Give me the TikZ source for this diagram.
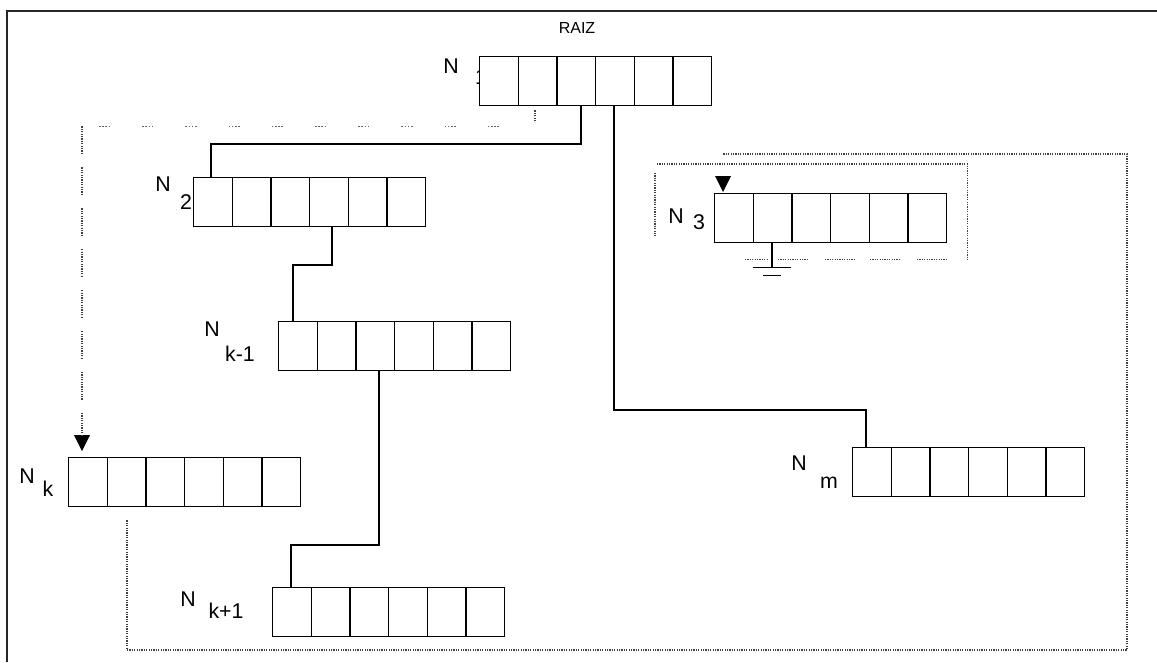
\documentclass[tikz,border=0pt]{standalone}
\usepackage{fontspec}
\setmainfont{Liberation Sans}
\usetikzlibrary{calc,arrows.meta}
\begin{document}
\begin{tikzpicture}[x=0.75pt,y=-0.75pt,
  rec/.style={draw, line width=1.1pt, fill=white, inner sep=0pt, anchor=north west,
    minimum width=174pt, minimum height=36.75pt,
    path picture={\foreach \i in {1,...,5}{\draw[line width=1.1pt]
      ($(path picture bounding box.south west)!\i/6!(path picture bounding box.south east)$) --
      ($(path picture bounding box.north west)!\i/6!(path picture bounding box.north east)$);}}},
  lbl/.style={inner sep=0pt, font=\fontsize{16}{18}\selectfont},
  link/.style={line width=1.1pt},
  dots/.style={line width=0.9pt, black!75, dash pattern=on 0.9pt off 0.9pt},
  sparse/.style={line width=0.9pt, black!60, dash pattern=on 1.2pt off 1.2pt on 1.2pt off 1.2pt on 1.2pt off 1.2pt on 1.2pt off 24pt},
  pointer/.style={fill=black}
]
\useasboundingbox (0,0) rectangle (1157,662);
% frame
\draw[line width=1.5pt, black!85] (7,662) -- (7,11) -- (1157,11);

% labels
\node[lbl] (l1) at (451,66) {N};
\node[lbl] (l1s) at (481,77) {1};
\node[inner sep=0pt, font=\fontsize{12}{14}\selectfont] (raizlbl) at (577,28) {RAIZ};
\node[lbl] (l2) at (163,184) {N};
\node[lbl] (l2s) at (186,202) {2};
\node[lbl] (lkm1) at (212,329) {N};
\node[lbl] (lkm1s) at (240,354) {k-1};
\node[lbl] (lk) at (27,476) {N};
\node[lbl] (lks) at (48,489) {k};
\node[lbl] (lkp1) at (188,599) {N};
\node[lbl] (lkp1s) at (226,611) {k+1};
\node[lbl] (l3) at (676,216) {N};
\node[lbl] (l3s) at (699,222) {3};
\node[lbl] (lm) at (799,463) {N};
\node[lbl] (lms) at (829,483) {m};

% records
\node[rec] (raiz) at (479,56) {};
\node[rec] (n2) at (193,177) {};
\node[rec] (nkm1) at (278,321) {};
\node[rec] (nk) at (68,457) {};
\node[rec] (nkp1) at (272,587) {};
\node[rec] (n3) at (714,193) {};
\node[rec] (nm) at (852,447) {};

% tree links
\draw[link] ($(raiz.south west)+(102,0)$) |- ($(n2.north west)+(18,-33)$) -- ($(n2.north west)+(18,0)$);
\draw[link] ($(raiz.south west)+(135,0)$) |- ($(nm.north west)+(14,-37)$) -- ($(nm.north west)+(14,0)$);
\draw[link] ($(n2.south west)+(139,0)$) |- ($(nkm1.north west)+(15,-56)$) -- ($(nkm1.north west)+(15,0)$);
\draw[link] ($(nkm1.south west)+(101,0)$) |- ($(nkp1.north west)+(19,-42)$) -- ($(nkp1.north west)+(19,0)$);

% pointer to N_k
\coordinate (ptk) at ($(nk.north west)+(14,-6)$);
\fill[pointer] (ptk) -- ++(-8,-16) -- ++(16,0) -- cycle;
\coordinate (a0) at ($(raiz.south west)+(56,4)$);
\coordinate (a1) at ($(raiz.south west)+(56,20)$);
\draw[dots] (a0) -- ($(a0)+(0,12)$);
\draw[sparse] ($(a1)+(-36,0)$) -- (a1 -| ptk);
\draw[dots, dash pattern=on 0.9pt off 0.9pt on 0.9pt off 0.9pt on 0.9pt off 0.9pt on 0.9pt off 0.9pt on 0.9pt off 0.9pt on 0.9pt off 0.9pt on 0.9pt off 0.9pt on 0.9pt off 0.9pt on 0.9pt off 0.9pt on 0.9pt off 0.9pt on 0.9pt off 0.9pt on 0.9pt off 10pt] (a1 -| ptk) -- ($(ptk)+(0,-16)$);

% pointer to N_3 and its dotted frame
\coordinate (pt3) at ($(n3.north west)+(9,-1)$);
\fill[pointer] (pt3) -- ++(-8,-16) -- ++(16,0) -- cycle;
\draw[dots] ($(n3.north west)+(-57,-29)$) -| ($(n3.south east)+(20,17)$);
\draw[dots] ($(n3.north west)+(-59,-20)$) -- ($(n3.south west)+(-59,-8)$);
\foreach \s/\e in {31/53, 64/94, 111/141, 156/186, 203/233}
  \draw[dots] ($(n3.south west)+(\s,16)$) -- ($(n3.south west)+(\e,16)$);

% ground
\draw[line width=0.9pt] ($(n3.south west)+(58,0)$) -- ++(0,24) coordinate (g);
\draw[line width=0.9pt] ($(g)+(-19,0)$) -- ($(g)+(19,0)$);
\draw[line width=0.9pt] ($(g)+(-9,8)$) -- ($(g)+(9,8)$);

% outer loop from N_k to N_3
\coordinate (b0) at ($(nk.south west)+(59,13)$);
\coordinate (br) at (1127,650);
\coordinate (lt) at (pt3 |- 0,154);
\draw[dots] (b0) |- (br) |- (lt);
\end{tikzpicture}
\end{document}
